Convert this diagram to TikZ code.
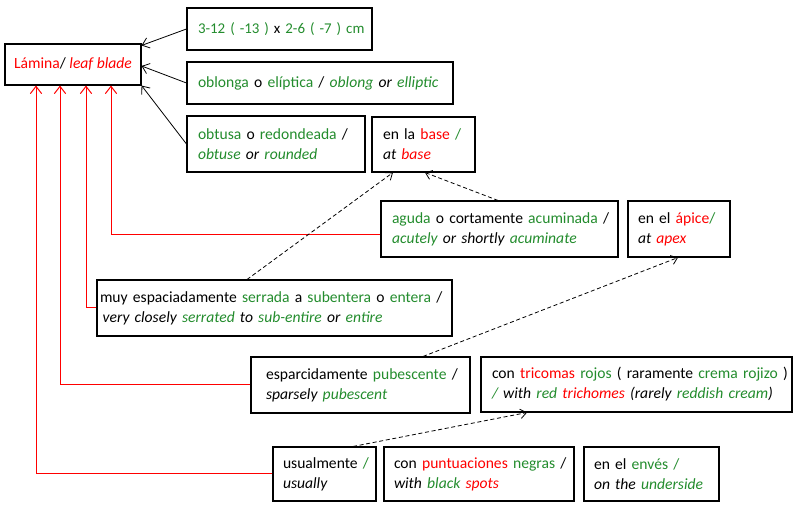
\documentclass[tikz,border=0pt]{standalone}
\usepackage{fontspec}
\setmainfont{Carlito}
\usetikzlibrary{arrows.meta,calc}
\definecolor{gr}{RGB}{35,140,45}
\definecolor{rd}{RGB}{255,0,0}
\newcommand\gtx[1]{\textcolor{gr}{#1}}
\newcommand\rtx[1]{\textcolor{rd}{#1}}
\begin{document}
\begin{tikzpicture}[x=0.75pt,y=-0.75pt,
  lbox/.style={draw, line width=0.8pt, align=left, inner xsep=0pt, inner ysep=0pt,
    font=\fontsize{11.7pt}{15pt}\selectfont},
  blk/.style={-{Straight Barb[length=5pt,width=8pt]}, line width=0.6pt},
  redl/.style={draw=rd, -{Straight Barb[length=5.5pt,width=8.5pt]}, line width=0.75pt},
  dsh/.style={-{Straight Barb[length=4.5pt,width=7pt]}, line width=0.6pt, dash pattern=on 3pt off 2pt}]
\useasboundingbox (0,0) rectangle (801,509);

\node[lbox, align=center, minimum width=102pt, minimum height=30.75pt] (lam) at (73,64.5)
  {\rtx{Lámina}/ \rtx{\itshape leaf blade}};
\node[lbox, font=\fontsize{11.2pt}{15pt}\selectfont, minimum width=138.75pt, minimum height=31.5pt, text width=122.25pt] (b1) at (279.5,29)
  {\mbox{\gtx{3-12 ( -13 )} x \gtx{2-6 ( -7 ) cm}}};
\node[lbox, minimum width=199.5pt, minimum height=31.5pt, text width=183pt] (b2) at (320,83)
  {\mbox{\gtx{oblonga} o \gtx{elíptica} / \itshape\gtx{oblong} or \gtx{elliptic}}};
\node[lbox, minimum width=133.5pt, minimum height=42pt, text width=117pt] (b3) at (276,144)
  {\mbox{\gtx{obtusa} o \gtx{redondeada} /}\\\mbox{\itshape\gtx{obtuse} or \gtx{rounded}}};
\node[lbox, minimum width=77.25pt, minimum height=41.25pt, text width=60.75pt] (base) at (423.5,144.5)
  {\mbox{en la \rtx{base} \gtx{/}}\\\mbox{\itshape at \rtx{base}}};
\node[lbox, minimum width=177.75pt, minimum height=42pt, text width=161.25pt] (aguda) at (499.5,229)
  {\mbox{\gtx{aguda} o cortamente \gtx{acuminada} /}\\\mbox{\itshape\gtx{acutely} or shortly \gtx{acuminate}}};
\node[lbox, minimum width=76.5pt, minimum height=42pt, text width=61.5pt] (apex) at (679,229)
  {\mbox{en el \rtx{ápice}\gtx{/}}\\\mbox{\itshape at \rtx{apex}}};
\node[lbox, minimum width=266.25pt, minimum height=42pt, text width=261.75pt] (muy) at (274.5,308)
  {\mbox{muy espaciadamente \gtx{serrada} a \gtx{subentera} o \gtx{entera} /}\\\mbox{\hspace{2pt}\itshape very closely \gtx{serrated} to \gtx{sub-entire} or \gtx{entire}}};
\node[lbox, minimum width=164.25pt, minimum height=42pt, text width=141.75pt] (espar) at (360.5,385)
  {\mbox{esparcidamente \gtx{pubescente} /}\\\mbox{\itshape sparsely \gtx{pubescent}}};
\node[lbox, minimum width=233.25pt, minimum height=41.25pt, text width=216.75pt] (tric) at (636.5,384.5)
  {\mbox{con \rtx{tricomas} \gtx{rojos} ( raramente \gtx{crema rojizo} )}\\\mbox{\itshape\gtx{/} with \gtx{red} \rtx{trichomes} (rarely \gtx{reddish cream})}};
\node[lbox, minimum width=77.25pt, minimum height=40.5pt, text width=62.25pt] (usual) at (324.5,474)
  {\mbox{usualmente \gtx{/}}\\\mbox{\itshape usually}};
\node[lbox, minimum width=142.5pt, minimum height=40.5pt, text width=127.5pt] (punt) at (479,474)
  {\mbox{con \rtx{puntuaciones} \gtx{negras} /}\\\mbox{\itshape with \gtx{black} \rtx{spots}}};
\node[lbox, minimum width=101.25pt, minimum height=40.5pt, text width=86.25pt] (enves) at (651.5,474)
  {\mbox{en el \gtx{envés} \gtx{/}}\\\mbox{\itshape on the \gtx{underside}}};

% black arrows
\draw[blk] (b1.west) -- ([yshift=-1.5pt]lam.north east);
\draw[blk] (b2.west) -- ([yshift=-1.1pt]lam.east);
\draw[blk] (b3.west) -- (lam.south east);

% red connectors
\draw[redl] ([yshift=-4.5pt]aguda.west) -| ([xshift=28.5pt]lam.south);
\draw[redl] (muy.west) -| ([xshift=9.75pt]lam.south);
\draw[redl] (espar.west) -| ([xshift=-9.75pt]lam.south);
\draw[redl] (usual.west) -| ([xshift=-27.75pt]lam.south);

% dashed arrows
\draw[dsh] ([xshift=-20.6pt]muy.north) -- ([xshift=-22.9pt]base.south);
\draw[dsh] ([xshift=-1.1pt]aguda.north) -- ([xshift=1.1pt]base.south);
\draw[dsh] ([xshift=46.9pt]espar.north) -- ([xshift=-0.75pt]apex.south);
\draw[dsh] ([xshift=21.4pt]usual.north) -- ([xshift=-82.1pt]tric.south);
\end{tikzpicture}
\end{document}
